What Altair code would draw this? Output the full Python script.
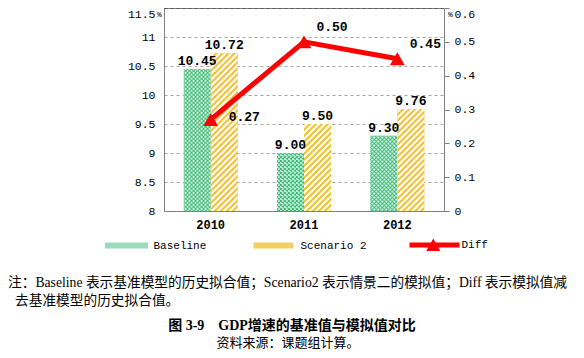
import urllib.parse
import altair as alt
import pandas as pd

# ---------------- data ----------------
years = ["2010", "2011", "2012"]
baseline = [10.45, 9.00, 9.30]
scenario2 = [10.72, 9.50, 9.76]
diff = [0.27, 0.50, 0.45]
series_names = ["Baseline", "Scenario 2", "Diff"]
left_ticks = [8, 8.5, 9, 9.5, 10, 10.5, 11, 11.5]
right_ticks = [0, 0.1, 0.2, 0.3, 0.4, 0.5, 0.6]
note_lines = [
    "注：Baseline 表示基准模型的历史拟合值；Scenario2 表示情景二的模拟值；Diff 表示模拟值减",
    "去基准模型的历史拟合值。",
]
fig_title = ["图 3-9\u2003GDP增速的基准值与模拟值对比"]
source_line = ["资料来源：课题组计算。"]

bars_df = pd.DataFrame({
    "year": years * 2,
    "series": [series_names[0]] * 3 + [series_names[1]] * 3,
    "value": baseline + scenario2,
})
diff_df = pd.DataFrame({"year": years, "diff": diff, "series": series_names[2]})
top_df = pd.DataFrame({"v": [left_ticks[-1]]})
legend_df = pd.DataFrame({"series": series_names})

# ---------------- styles ----------------
MONO = "Liberation Mono"
SERIF = "Liberation Serif, Noto Sans CJK SC"
RED = "#ff0000"
AXIS_GRAY = "#808080"


def svg_url(svg):
    return "data:image/svg+xml," + urllib.parse.quote(svg)


green_svg = (
    "<svg xmlns='http://www.w3.org/2000/svg' width='100%' height='100%'>"
    "<defs><pattern id='p' width='4' height='4' patternUnits='userSpaceOnUse'>"
    "<rect width='4' height='4' fill='#dcf5e9'/>"
    "<path d='M0,0L4,4M0,4L4,0' stroke='#33b56f' stroke-width='0.9'/>"
    "</pattern></defs><rect width='100%' height='100%' fill='url(#p)'/></svg>"
)
yellow_svg = (
    "<svg xmlns='http://www.w3.org/2000/svg' width='100%' height='100%'>"
    "<defs><pattern id='q' width='6' height='6' patternUnits='userSpaceOnUse'>"
    "<rect width='6' height='6' fill='#ffffff'/>"
    "<path d='M-1,1L1,-1M0,6L6,0M5,7L7,5' stroke='#f0bf2e' stroke-width='2.0'/>"
    "</pattern></defs><rect width='100%' height='100%' fill='url(#q)'/></svg>"
)
green_url = svg_url(green_svg)
yellow_url = svg_url(yellow_svg)

flat_colors = ["#9adcbb", "#f3cf63", RED]
shape_paths = [
    "M-0.86,-0.12H0.86V0.12H-0.86Z",
    "M-0.8,-0.12H0.8V0.12H-0.8Z",
    "M-1,-0.1H1V0.1H-1Z M-0.33,0.24L-0.05,-0.26L0.23,0.24Z",
]

legend = alt.Legend(
    orient="none", legendX=-62.5, legendY=212, direction="horizontal", columns=3,
    title=None, labelFont=MONO, labelFontSize=11, labelColor="#000",
    symbolSize=2500, columnPadding=42, labelOffset=2, padding=0,
    symbolStrokeWidth=0, rowPadding=0, symbolOpacity=1,
)

x_axis = alt.Axis(
    title=None, labelAngle=0, ticks=False, domainColor=AXIS_GRAY, grid=False,
    labelFont=MONO, labelFontSize=12, labelFontWeight="bold", labelPadding=8,
    labelColor="#000",
)
left_axis = alt.Axis(
    values=left_ticks, labelExpr="'' + datum.value", grid=True, gridDash=[3, 3],
    gridColor="#a6a6a6", ticks=False, domainColor=AXIS_GRAY, labelFont=MONO,
    labelFontSize=11.5, labelColor="#000", labelPadding=9,
    labelBaseline={"condition": {"test": "datum.value == 11.5", "value": "top"}, "value": "middle"},
    title="%", titleAngle=0, titleFont=MONO, titleFontSize=8, titleFontWeight="normal",
    titleX=-5, titleY=6, titleAlign="center", titleBaseline="middle", titleColor="#000",
)
right_axis = alt.Axis(
    orient="right", values=right_ticks, labelExpr="'' + datum.value", grid=False,
    ticks=True, tickSize=5, tickColor=AXIS_GRAY, domainColor=AXIS_GRAY,
    labelFont=MONO, labelFontSize=11.5, labelColor="#000", labelPadding=5,
    labelBaseline={"condition": {"test": "datum.value == 0.6", "value": "top"}, "value": "middle"},
    title="%", titleAngle=0, titleFont=MONO, titleFontSize=8, titleFontWeight="normal",
    titleX=6, titleY=6, titleAlign="center", titleBaseline="middle", titleColor="#000",
)

x_enc = alt.X("year:N", sort=years, scale=alt.Scale(paddingInner=0.42, paddingOuter=0.21), axis=x_axis)
xoff = alt.XOffset("series:N", scale=alt.Scale(domain=series_names[:2], paddingInner=0, paddingOuter=0))
y_left = alt.Y("value:Q", scale=alt.Scale(domain=[8, 11.5], nice=False, zero=False), axis=left_axis)
y_right = alt.Y("diff:Q", scale=alt.Scale(domain=[0, 0.6], nice=False, zero=False), axis=right_axis)
color_enc = alt.Color("series:N", scale=alt.Scale(domain=series_names, range=flat_colors), legend=legend)
shape_enc = alt.Shape("series:N", scale=alt.Scale(domain=series_names, range=shape_paths), legend=legend)

base_bars = alt.Chart(bars_df)
bars = base_bars.mark_bar().encode(x=x_enc, xOffset=xoff, y=y_left, y2=alt.datum(8), color=color_enc)
img_green = base_bars.transform_filter(alt.datum.series == series_names[0]).mark_image(aspect=False).encode(
    x=x_enc, xOffset=xoff, y=y_left, y2=alt.datum(8), url=alt.value(green_url))
img_yellow = base_bars.transform_filter(alt.datum.series == series_names[1]).mark_image(aspect=False).encode(
    x=x_enc, xOffset=xoff, y=y_left, y2=alt.datum(8), url=alt.value(yellow_url))
bar_labels = base_bars.mark_text(
    font=MONO, fontSize=13, fontWeight="bold", baseline="alphabetic", dy=-4, color="#000"
).encode(x=x_enc, xOffset=xoff, y=y_left, text=alt.Text("value:Q", format=".2f"))
top_rule = alt.Chart(top_df).mark_rule(color="#000", strokeWidth=1.2).encode(
    y=alt.Y("v:Q", axis=left_axis))

note1 = alt.Chart(pd.DataFrame({"t": note_lines[:1]})).mark_text(
    font=SERIF, fontSize=13.7, align="left", baseline="middle", color="#000"
).encode(text="t:N", x=alt.value(-156), y=alt.value(275))
note2 = alt.Chart(pd.DataFrame({"t": note_lines[1:]})).mark_text(
    font=SERIF, fontSize=13.7, align="left", baseline="middle", color="#000"
).encode(text="t:N", x=alt.value(-149), y=alt.value(293))
title_txt = alt.Chart(pd.DataFrame({"t": fig_title})).mark_text(
    font=SERIF, fontSize=14, fontWeight="bold", align="center", baseline="middle", color="#000"
).encode(text="t:N", x=alt.value(128), y=alt.value(318))
source_txt = alt.Chart(pd.DataFrame({"t": source_line})).mark_text(
    font=SERIF, fontSize=13, align="center", baseline="middle", color="#000"
).encode(text="t:N", x=alt.value(124), y=alt.value(335))

left_group = alt.layer(bars, img_green, img_yellow, bar_labels, top_rule,
                       note1, note2, title_txt, source_txt)

line = alt.Chart(diff_df).mark_line(color=RED, strokeWidth=5).encode(x=x_enc, y=y_right)
pts = alt.Chart(diff_df).mark_point(
    shape="triangle-up", filled=True, size=220, color=RED, opacity=1
).encode(x=x_enc, y=y_right)
lab_a = alt.Chart(diff_df).transform_filter(alt.datum.year == years[0]).mark_text(
    font=MONO, fontSize=13, fontWeight="bold", align="left", baseline="middle", dx=18, dy=-3, color="#000"
).encode(x=x_enc, y=y_right, text=alt.Text("diff:Q", format=".2f"))
lab_b = alt.Chart(diff_df).transform_filter(alt.datum.year != years[0]).mark_text(
    font=MONO, fontSize=13, fontWeight="bold", align="center", baseline="middle", dx=28, dy=-15, color="#000"
).encode(x=x_enc, y=y_right, text=alt.Text("diff:Q", format=".2f"))
legend_layer = alt.Chart(legend_df).mark_point(filled=True, opacity=1, clip=True).encode(
    y=alt.YDatum(-1, axis=right_axis), color=color_enc, shape=shape_enc)

right_group = alt.layer(line, pts, lab_a, lab_b, legend_layer)

chart = alt.layer(left_group, right_group).resolve_scale(y="independent").properties(
    width=280, height=203,
    padding={"left": 156, "top": 0, "right": 132, "bottom": 139},
    autosize=alt.AutoSizeParams(type="none"),
    background="#ffffff",
).configure_view(stroke=None)

chart.save("out.html", embed_options={"renderer": "svg", "actions": False})
